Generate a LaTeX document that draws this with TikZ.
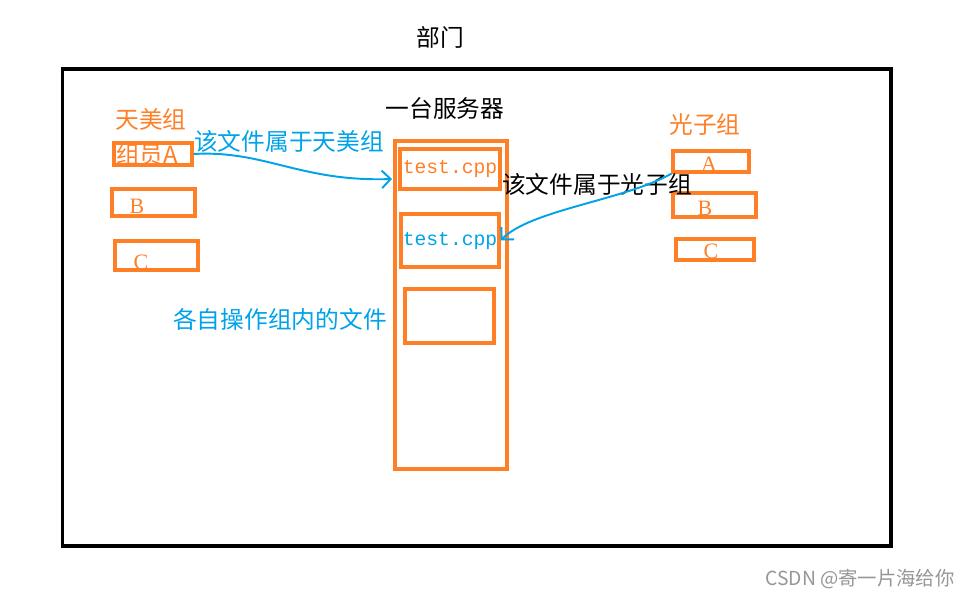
\documentclass[tikz,border=0pt]{standalone}
\usepackage{fontspec}
\setmainfont{Noto Sans CJK SC}
\newfontfamily\serifabc{Liberation Serif}
\newfontfamily\codefont{Liberation Mono}
\usetikzlibrary{arrows.meta}
\definecolor{paintorange}{RGB}{255,127,39}
\definecolor{paintblue}{RGB}{0,162,232}
\definecolor{marktext}{RGB}{150,150,150}

\tikzset{
  groupbox/.style={draw=paintorange,line width=1.9pt,inner sep=0pt},
  orangetxt/.style={text=paintorange,font=\fontsize{13.5}{15}\selectfont,inner sep=0pt},
  bluetxt/.style={text=paintblue,font=\fontsize{13.5}{15}\selectfont,inner sep=0pt},
  blacktxt/.style={text=black,font=\fontsize{13.5}{15}\selectfont,inner sep=0pt},
  letter/.style={text=paintorange,font=\fontsize{12.5}{15}\selectfont\serifabc,inner sep=0pt},
  filetxt/.style={font=\fontsize{11.2}{13}\selectfont\codefont},
  belongs/.style={draw=paintblue,line width=1.1pt,-{Straight Barb[length=5pt,width=10pt]}}
}

\begin{document}
\begin{tikzpicture}[x=0.02cm,y=-0.02cm]
\useasboundingbox (0,0) rectangle (972,598);
% department
\node[draw=black,line width=1.8pt,minimum width=16.58cm,minimum height=9.54cm] (dept) at (476.5,307.5) {};
\node[blacktxt] (deptname) at (440,37) {部门};
% server
\node[blacktxt] (servername) at (445,108) {一台服务器};
\node[groupbox,minimum width=2.24cm,minimum height=6.56cm] (server) at (451,305) {};
\node[groupbox,filetxt,minimum width=2.0cm,minimum height=0.8cm,text=paintorange] (fileA) at (450,169) {test.cpp};
\node[groupbox,filetxt,minimum width=1.96cm,minimum height=1.06cm,text=paintblue] (fileB) at (450,240.5) {test.cpp};
\node[groupbox,minimum width=1.78cm,minimum height=1.08cm] (fileC) at (449.5,316) {};
% tianmei group
\node[orangetxt] (tmname) at (151,119) {天美组};
\node[groupbox,minimum width=1.56cm,minimum height=0.44cm] (memberA) at (153,154) {};
\node[orangetxt] (memberAtxt) at (147,155) {组员A};
\node[groupbox,minimum width=1.66cm,minimum height=0.54cm] (memberB) at (153.5,202.5) {};
\node[letter] (memberBtxt) at (137,206) {B};
\node[groupbox,minimum width=1.66cm,minimum height=0.58cm] (memberC) at (156.5,255.5) {};
\node[letter] (memberCtxt) at (141,262) {C};
% guangzi group
\node[orangetxt] (gzname) at (705,124) {光子组};
\node[groupbox,minimum width=1.52cm,minimum height=0.42cm] (gzA) at (711,161.5) {};
\node[letter] (gzAtxt) at (709,164) {A};
\node[groupbox,minimum width=1.66cm,minimum height=0.48cm] (gzB) at (714.5,205) {};
\node[letter] (gzBtxt) at (705,208) {B};
\node[groupbox,minimum width=1.56cm,minimum height=0.42cm] (gzC) at (715,249.5) {};
\node[letter] (gzCtxt) at (711,251) {C};
% notes
\node[bluetxt] (noteA) at (289,141) {该文件属于天美组};
\node[blacktxt] (noteB) at (597,184) {该文件属于光子组};
\node[bluetxt] (noteC) at (280,319) {各自操作组内的文件};
\node[text=marktext,font=\fontsize{11}{13}\selectfont,inner sep=0pt] (mark) at (860,579) {CSDN @寄一片海给你};
% arrows
\coordinate (tipA) at (392,179);
\draw[belongs] (memberA.east) .. controls (265,150) and (300,182) .. (tipA);
\draw[belongs] (gzA.south west) .. controls (625,200) and (530,210) .. (fileB.east);
\end{tikzpicture}
\end{document}
